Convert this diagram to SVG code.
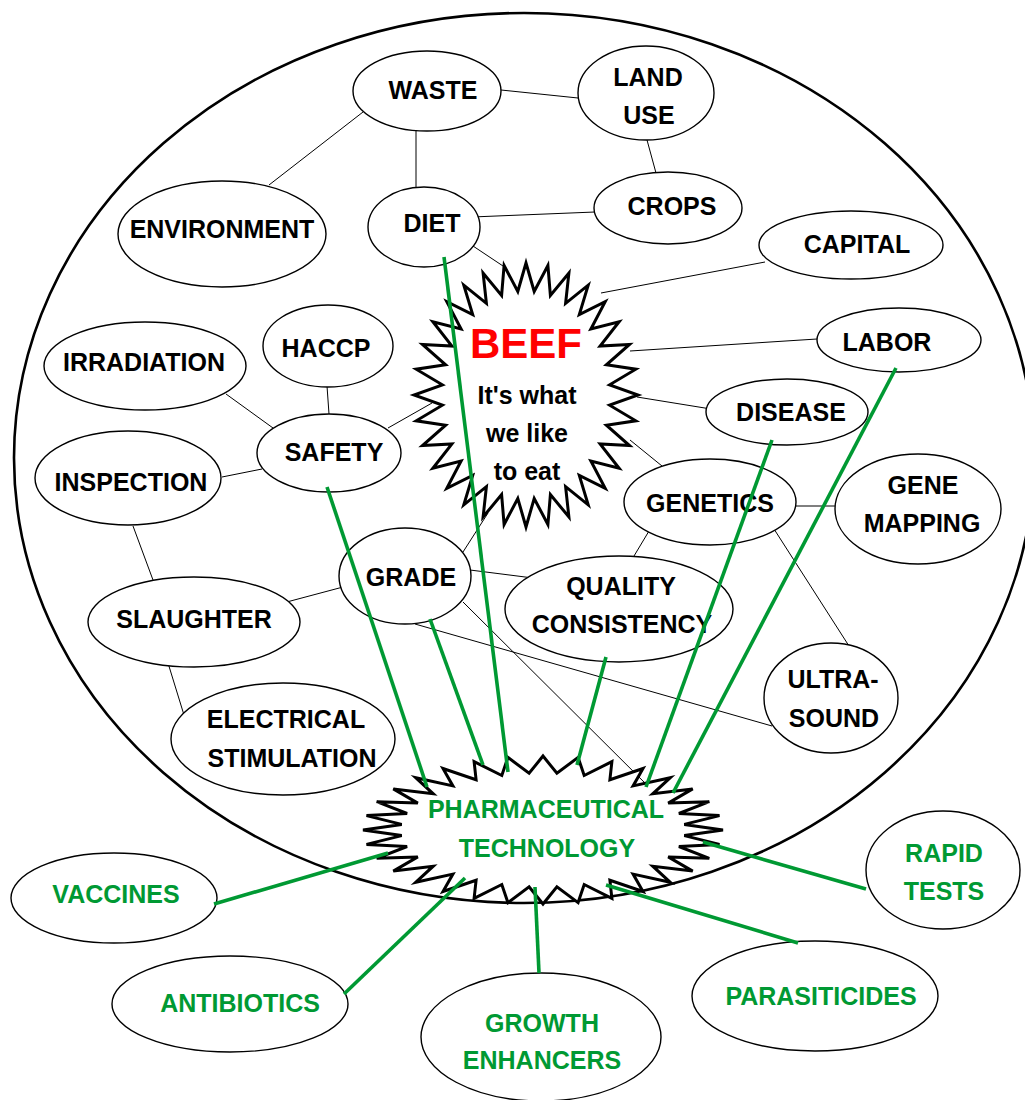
<svg xmlns="http://www.w3.org/2000/svg" width="1025" height="1100" viewBox="0 0 1025 1100">
<style>
.n{fill:#fff;stroke:#000;stroke-width:1.4}
.c line{stroke:#000;stroke-width:1}
.gl line{stroke:#009933;stroke-width:3.6;stroke-linecap:butt}
.star{fill:#fff;stroke:#000;stroke-width:3;stroke-linejoin:miter}
text{font-family:"Liberation Sans",Arial,sans-serif;font-weight:bold;font-size:25px;text-anchor:middle;fill:#000}
.g{fill:#009933}
</style>
<rect width="1025" height="1100" fill="#fff"/>
<ellipse id="outer" cx="524" cy="458" rx="510" ry="445" fill="none" stroke="#000" stroke-width="2.6"/>
<g id="connectors" class="c">
<line x1="501" y1="90" x2="578" y2="98"/>
<line x1="363" y1="112" x2="269" y2="185"/>
<line x1="416" y1="128" x2="416" y2="187"/>
<line x1="647" y1="140" x2="656" y2="173"/>
<line x1="472" y1="217" x2="595" y2="212"/>
<line x1="473" y1="246" x2="506" y2="268"/>
<line x1="765" y1="262" x2="601" y2="293"/>
<line x1="226" y1="394" x2="273" y2="428"/>
<line x1="327" y1="386" x2="329" y2="414"/>
<line x1="388" y1="428" x2="432" y2="403"/>
<line x1="222" y1="477" x2="262" y2="469"/>
<line x1="133" y1="526" x2="153" y2="580"/>
<line x1="283" y1="603" x2="343" y2="587"/>
<line x1="168" y1="663" x2="184" y2="715"/>
<line x1="463" y1="552" x2="488" y2="513"/>
<line x1="470" y1="570" x2="533" y2="578"/>
<line x1="415" y1="624" x2="772" y2="726"/>
<line x1="463" y1="602" x2="657" y2="795"/>
<line x1="817" y1="339" x2="630" y2="351"/>
<line x1="711" y1="409" x2="637" y2="397"/>
<line x1="662" y1="466" x2="630" y2="440"/>
<line x1="792" y1="506" x2="835" y2="506"/>
<line x1="649" y1="531" x2="634" y2="556"/>
<line x1="774" y1="529" x2="849" y2="646"/>
</g>
<g id="waste"><ellipse class="n" cx="427" cy="91" rx="74" ry="40"/><text x="433" y="99">WASTE</text></g>
<g id="landuse"><ellipse class="n" cx="646" cy="93" rx="68" ry="47"/><text x="648" y="86">LAND</text><text x="649" y="124">USE</text></g>
<g id="environment"><ellipse class="n" cx="222" cy="234" rx="104" ry="53"/><text x="222" y="238">ENVIRONMENT</text></g>
<g id="diet"><ellipse class="n" cx="424" cy="227" rx="56" ry="40"/><text x="432" y="232">DIET</text></g>
<g id="crops"><ellipse class="n" cx="668" cy="208" rx="74" ry="36"/><text x="672" y="215">CROPS</text></g>
<g id="capital"><ellipse class="n" cx="851" cy="245" rx="92" ry="34"/><text x="857" y="253">CAPITAL</text></g>
<g id="irradiation"><ellipse class="n" cx="145" cy="366" rx="101" ry="44"/><text x="144" y="371">IRRADIATION</text></g>
<g id="haccp"><ellipse class="n" cx="328" cy="346" rx="65" ry="41"/><text x="326" y="357">HACCP</text></g>
<g id="safety"><ellipse class="n" cx="329" cy="453" rx="72" ry="39"/><text x="334" y="461">SAFETY</text></g>
<g id="inspection"><ellipse class="n" cx="128" cy="478" rx="93" ry="47"/><text x="131" y="491">INSPECTION</text></g>
<g id="grade"><ellipse class="n" cx="405" cy="576" rx="66" ry="48"/><text x="411" y="586">GRADE</text></g>
<g id="slaughter"><ellipse class="n" cx="194" cy="622" rx="106" ry="45"/><text x="194" y="628">SLAUGHTER</text></g>
<g id="electrical"><ellipse class="n" cx="283" cy="739" rx="112" ry="56"/><text x="286" y="728">ELECTRICAL</text><text x="292" y="767">STIMULATION</text></g>
<g id="labor"><ellipse class="n" cx="899" cy="340" rx="82" ry="32"/><text x="887" y="351">LABOR</text></g>
<g id="disease"><ellipse class="n" cx="787" cy="412" rx="81" ry="33"/><text x="791" y="421">DISEASE</text></g>
<g id="genetics"><ellipse class="n" cx="710" cy="502" rx="86" ry="43"/><text x="710" y="512">GENETICS</text></g>
<g id="genemapping"><ellipse class="n" cx="918" cy="509" rx="83" ry="55"/><text x="923" y="494">GENE</text><text x="922" y="532">MAPPING</text></g>
<g id="quality"><ellipse class="n" cx="619" cy="609" rx="114" ry="53"/><text x="621" y="595">QUALITY</text><text x="622" y="633">CONSISTENCY</text></g>
<g id="ultrasound"><ellipse class="n" cx="831" cy="698" rx="67" ry="55"/><text x="833" y="688">ULTRA-</text><text x="834" y="727">SOUND</text></g>
<g id="beef">
<polygon class="star" points="526,263 534.2,291.5 547.9,265.5 550.4,295.5 568.9,273 565.6,303.3 588.2,285.2 579.3,314.6 605.2,301.7 590.9,329 619.1,321.7 600.1,346 629.5,344.5 606.4,364.8 635.8,369.2 609.6,384.8 638,395 609.6,405.2 635.8,420.8 606.4,425.2 629.5,445.5 600.1,444 619.1,468.3 590.9,461 605.2,488.3 579.3,475.4 588.2,504.8 565.6,486.7 568.9,517 550.4,494.5 547.9,524.5 534.2,498.5 526,527 517.8,498.5 504.1,524.5 501.6,494.5 483.1,517 486.4,486.7 463.8,504.8 472.7,475.4 446.8,488.3 461.1,461 432.9,468.3 451.9,444 422.5,445.5 445.6,425.2 416.2,420.8 442.4,405.2 414,395 442.4,384.8 416.2,369.2 445.6,364.8 422.5,344.5 451.9,346 432.9,321.7 461.1,329 446.8,301.7 472.7,314.6 463.8,285.2 486.4,303.3 483.1,273 501.6,295.5 504.1,265.5 517.8,291.5"/>
<text x="526" y="358" style="font-size:42px;fill:#ff0000">BEEF</text>
<text x="527" y="404">It's what</text>
<text x="527" y="442">we like</text>
<text x="527" y="480">to eat</text>
</g>
<g id="pharma">
<polygon class="star" points="543,756 556.9,773.3 578.1,757.4 584.2,775.5 611.9,761.6 609.9,779.7 643,768.5 633.1,785.9 670.3,777.7 652.8,793.8 692.7,788.9 668.2,803.1 709.3,801.7 678.9,813.5 719.5,815.6 684.3,824.4 723,830 684.3,835.6 719.5,844.4 678.9,846.5 709.3,858.3 668.2,856.9 692.7,871.1 652.8,866.2 670.3,882.3 633.1,874.1 643,891.5 609.9,880.3 611.9,898.4 584.2,884.5 578.1,902.6 556.9,886.7 543,904 529.1,886.7 507.9,902.6 501.8,884.5 474.1,898.4 476.1,880.3 443,891.5 452.9,874.1 415.7,882.3 433.2,866.2 393.3,871.1 417.8,856.9 376.7,858.3 407.1,846.5 366.5,844.4 401.7,835.6 363,830 401.7,824.4 366.5,815.6 407.1,813.5 376.7,801.7 417.8,803.1 393.3,788.9 433.2,793.8 415.7,777.7 452.9,785.9 443,768.5 476.1,779.7 474.1,761.6 501.8,775.5 507.9,757.4 529.1,773.3"/>
<text class="g" x="546" y="818">PHARMACEUTICAL</text>
<text class="g" x="547" y="857">TECHNOLOGY</text>
</g>
<g id="vaccines"><ellipse class="n" cx="114" cy="898" rx="103" ry="45"/><text class="g" x="116" y="903">VACCINES</text></g>
<g id="antibiotics"><ellipse class="n" cx="230" cy="1004" rx="118" ry="48"/><text class="g" x="240" y="1012">ANTIBIOTICS</text></g>
<g id="growth"><ellipse class="n" cx="541" cy="1037" rx="120" ry="64"/><text class="g" x="542" y="1032">GROWTH</text><text class="g" x="542" y="1069">ENHANCERS</text></g>
<g id="parasiticides"><ellipse class="n" cx="815" cy="996" rx="123" ry="55"/><text class="g" x="821" y="1005">PARASITICIDES</text></g>
<g id="rapidtests"><ellipse class="n" cx="943" cy="870" rx="77" ry="59"/><text class="g" x="944" y="862">RAPID</text><text class="g" x="944" y="900">TESTS</text></g>
<g id="green-connectors" class="gl">
<line x1="444" y1="257" x2="508" y2="772"/>
<line x1="327" y1="487" x2="427" y2="787"/>
<line x1="430" y1="619" x2="483" y2="765"/>
<line x1="606" y1="657" x2="577" y2="765"/>
<line x1="772" y1="440" x2="646" y2="787"/>
<line x1="896" y1="368" x2="673" y2="793"/>
<line x1="214" y1="904" x2="388" y2="853"/>
<line x1="344" y1="994" x2="465" y2="878"/>
<line x1="539" y1="973" x2="535" y2="887"/>
<line x1="798" y1="943" x2="606" y2="885"/>
<line x1="866" y1="889" x2="703" y2="842"/>
</g>
</svg>
